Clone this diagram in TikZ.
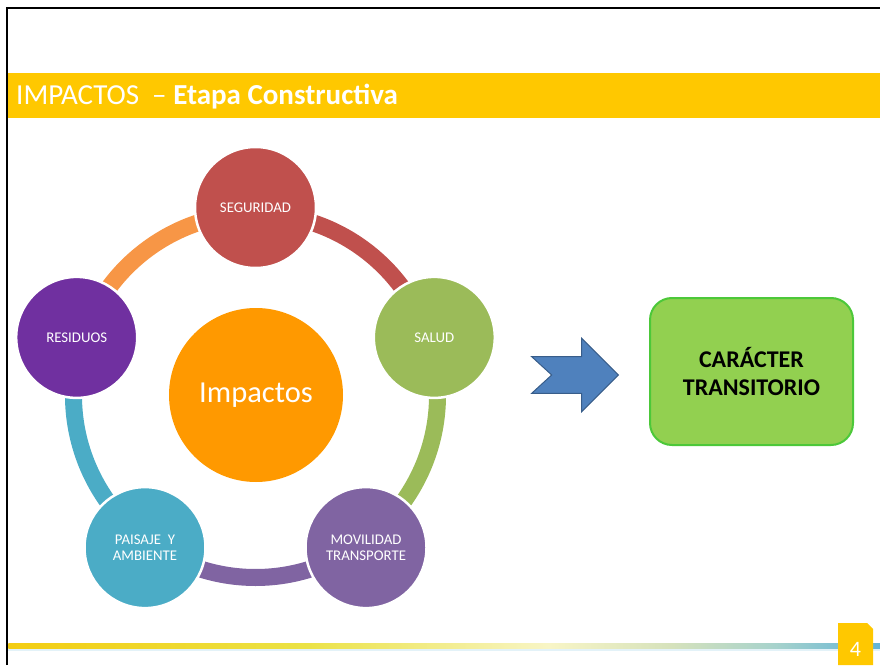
\documentclass[tikz,border=0pt]{standalone}
\usepackage{fontspec}
\setmainfont{Carlito}
\definecolor{ttlyellow}{HTML}{FFC800}
\definecolor{cred}{HTML}{C0504D}
\definecolor{cgreen}{HTML}{9BBB59}
\definecolor{cpurple}{HTML}{8064A2}
\definecolor{cteal}{HTML}{4BACC6}
\definecolor{corange}{HTML}{F79646}
\definecolor{cres}{HTML}{7030A0}
\definecolor{ccenter}{HTML}{FF9900}
\definecolor{arrowblue}{HTML}{4F81BD}
\definecolor{arrowedge}{HTML}{385D8A}
\definecolor{boxgreen}{HTML}{92D050}
\definecolor{boxedge}{HTML}{4CC839}
\definecolor{fya}{HTML}{F3CD12}
\definecolor{fyb}{HTML}{EBE245}
\definecolor{fyc}{HTML}{F8F5C6}
\definecolor{fyd}{HTML}{D6E2BC}
\definecolor{fye}{HTML}{A6D2CC}
\definecolor{fyf}{HTML}{62B4D6}
\pgfdeclarehorizontalshading{footline}{100bp}{color(0bp)=(fya); color(25bp)=(fya); color(42bp)=(fyb); color(56bp)=(fyc); color(63bp)=(fyd); color(69bp)=(fye); color(75bp)=(fyf); color(100bp)=(fyf)}
\tikzset{
  cyclenode/.style={circle, minimum size=121pt, inner sep=0pt, draw=white, line width=2.5pt,
    text=white, align=center, font=\fontsize{14.8}{15.5}\selectfont},
  ringarc/.style={line width=17pt},
}
\begin{document}
\begin{tikzpicture}[x=1pt,y=1pt]
\useasboundingbox (0,0) rectangle (880,665);
% frame
\draw[line width=2.5pt] (7,0) -- (7,657) -- (880,657);
% title bar
\fill[ttlyellow] (8.3,547) rectangle (880,592);
\node[anchor=base west, inner sep=0pt, text=white, font=\fontsize{29}{34}\selectfont] (title) at (16,560)
  {IMPACTOS\ \ – \textbf{Etapa Constructiva}};
% ring
\coordinate (c) at (255.5,269.5);
\draw[ringarc, cred]    ([shift={(90:182)}]c)  arc[start angle=90,  end angle=18,   radius=182];
\draw[ringarc, cgreen]  ([shift={(18:182)}]c)  arc[start angle=18,  end angle=-54,  radius=182];
\draw[ringarc, cpurple] ([shift={(-54:182)}]c) arc[start angle=-54, end angle=-126, radius=182];
\draw[ringarc, cteal]   ([shift={(-126:182)}]c) arc[start angle=-126, end angle=-198, radius=182];
\draw[ringarc, corange] ([shift={(162:182)}]c) arc[start angle=162, end angle=90,   radius=182];
% nodes
\node[cyclenode, fill=cred]    (seg) at ([shift={(90:188)}]c)   {SEGURIDAD};
\node[cyclenode, fill=cgreen]  (sal) at ([shift={(18:188)}]c)   {SALUD};
\node[cyclenode, fill=cpurple] (mov) at ([shift={(-54:188)}]c)  {MOVILIDAD\\TRANSPORTE};
\node[cyclenode, fill=cteal]   (pai) at ([shift={(-126:188)}]c) {PAISAJE\ \ Y\\AMBIENTE};
\node[cyclenode, fill=cres]    (res) at ([shift={(162:188)}]c)  {RESIDUOS};
\node[circle, minimum size=174pt, inner sep=0pt, fill=ccenter, text=white,
  font=\fontsize{30.5}{36}\selectfont] (imp) at (256,270) {Impactos};
% arrow
\filldraw[fill=arrowblue, draw=arrowedge, line width=1pt, line join=miter]
  (531.7,308.3) -- (551.7,290) -- (531.7,271.7) -- (581.7,271.7) -- (581.7,253.3)
  -- (618.3,290) -- (581.7,326.7) -- (581.7,308.3) -- cycle;
% result box
\node[draw=boxedge, fill=boxgreen, line width=2pt, rounded corners=22pt,
  minimum width=203pt, minimum height=147pt, align=center,
  font=\fontsize{24}{28}\selectfont\bfseries] (box) at (751.5,293.5) {CARÁCTER\\TRANSITORIO};
% footer line
\fill[fyf!30!white, opacity=0.6] (8.3,14) rectangle (880,16.5);
\shade[shading=footline] (8.3,16.5) rectangle (880,22);
% page number
\fill[ttlyellow] (838,0) -- (838,42) -- (867,42) -- (873,36) -- (873,0) -- cycle;
\node[text=white, font=\fontsize{22}{26}\selectfont, inner sep=0pt] (pg) at (855.5,15.5) {4};
\end{tikzpicture}
\end{document}
